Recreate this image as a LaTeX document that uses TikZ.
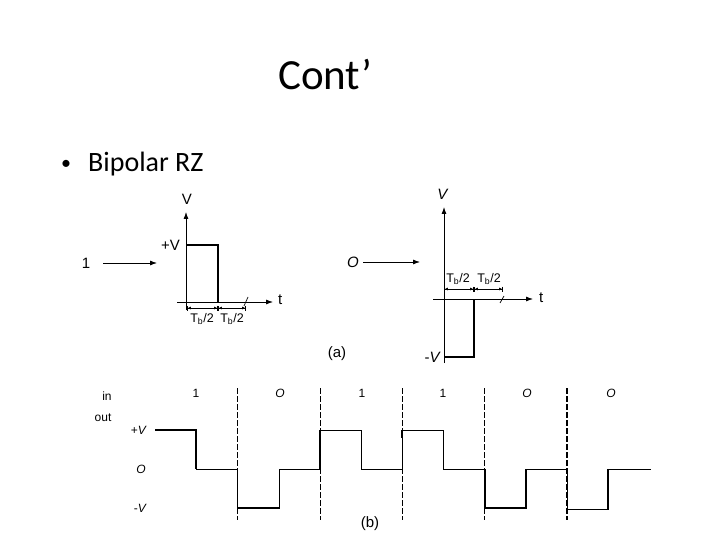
\documentclass[tikz,border=0pt]{standalone}
\usepackage{fontspec}
\setmainfont{Carlito}
\newfontfamily\figfont{Liberation Sans}
\usetikzlibrary{arrows.meta, positioning}

\begin{document}
\begin{tikzpicture}[x=1pt, y=-1pt,
    lbl/.style = {font=\figfont\fontsize{15}{15}\selectfont, inner sep=1pt},
    dimlbl/.style = {font=\figfont\fontsize{12.5}{12.5}\selectfont, inner sep=0pt},
    wlbl/.style = {font=\figfont\fontsize{12}{12}\selectfont, inner sep=1pt},
    axis/.style = {line width=0.8pt, -{Latex[length=7pt,width=5pt]}},
    pulse/.style = {line width=1.2pt},
    dim/.style = {line width=0.9pt,
        {Bar[width=5pt]Latex[length=3pt,width=3pt]}-{Latex[length=3pt,width=3pt]Bar[width=5pt]}},
    bitline/.style = {dash pattern=on 6pt off 2pt, line width=0.7pt},
    wave/.style = {line width=0.9pt},
    heavy/.style = {line width=2pt}]
    \useasboundingbox (0,0) rectangle (720,540);

    % slide text
    \node (title) [anchor=base west, inner sep=0pt,
        font=\fontsize{43}{43}\selectfont] at (278,90) {Cont’};
    \node (bullet) [anchor=base, inner sep=0pt,
        font=\fontsize{20}{20}\selectfont] at (66,170) {•};
    \node (item) [anchor=base west, inner sep=0pt,
        font=\fontsize{28}{28}\selectfont] at (88,172) {Bipolar RZ};

    % (a) left: a one
    \coordinate (oA) at (186,302);
    \coordinate (vA) at (186,212);
    \coordinate (vAbot) at (186,310);
    \coordinate (tAleft) at (177,302);
    \coordinate (tA) at (273,302);
    \coordinate (pAtop) at (186,245);
    \coordinate (pAcorner) at (218,245);
    \coordinate (pAend) at (218,302);
    \coordinate (dA1) at (187,308);
    \coordinate (dA2) at (218,308);
    \coordinate (dA3) at (246,308);
    \coordinate (oneend) at (157,263);

    \node (vlblA) [lbl] at (187,199) {V};
    \node (plusv) [lbl, anchor=east] at (181,245) {+V};
    \node (tlblA) [lbl, anchor=west] at (277,300) {t};
    \node (one) [lbl] at (86,263) {1};
    \node (halfA1) [dimlbl] at (202,319) {T\textsubscript{b}/2};
    \node (halfA2) [dimlbl] at (232,319) {T\textsubscript{b}/2};

    \draw [axis] (vAbot) -- (vA);
    \draw [axis] (tAleft) -- (tA);
    \draw [pulse] (pAtop) -- (pAcorner) -- (pAend);
    \draw [axis, shorten <=12pt] (one) -- (oneend);
    \draw [dim] (dA1) -- (dA2);
    \draw [dim] (dA2) -- (dA3);
    \draw [line width=0.7pt] (244,306) -- (248,297);

    % (a) right: a zero
    \coordinate (vB) at (444,207);
    \coordinate (vBbot) at (444,363);
    \coordinate (tBleft) at (433,299);
    \coordinate (tB) at (533,299);
    \coordinate (pBbot) at (444,357);
    \coordinate (pBcorner) at (474,357);
    \coordinate (pBend) at (474,299);
    \coordinate (dB1) at (444,289);
    \coordinate (dB2) at (474,289);
    \coordinate (dB3) at (503,289);
    \coordinate (zeroend) at (420,262);

    \node (vlblB) [lbl] at (443,194) {\textit{V}};
    \node (minusv) [lbl, anchor=east] at (442,357) {-\textit{V}};
    \node (tlblB) [lbl, anchor=west] at (538,298) {t};
    \node (zero) [lbl] at (353,262) {\textit{O}};
    \node (halfB1) [dimlbl] at (458,279) {T\textsubscript{b}/2};
    \node (halfB2) [dimlbl] at (489,279) {T\textsubscript{b}/2};
    \node (capa) [lbl] at (337,354) {(a)};

    \draw [axis] (vBbot) -- (vB);
    \draw [axis] (tBleft) -- (tB);
    \draw [pulse] (pBbot) -- (pBcorner) -- (pBend);
    \draw [axis, shorten <=3pt] (zero) -- (zeroend);
    \draw [dim] (dB1) -- (dB2);
    \draw [dim] (dB2) -- (dB3);
    \draw [line width=0.7pt] (500,303) -- (504,296);

    % (b) waveform for 1 0 1 1 0 0
    \node (inlbl) [wlbl] at (107,396) {in};
    \node (outlbl) [wlbl] at (103,418) {out};
    \node (lvlp) [wlbl, anchor=east] at (148,430) {+\textit{V}};
    \node (lvlz) [wlbl] at (141,469) {\textit{O}};
    \node (lvln) [wlbl, anchor=east] at (148,508) {-\textit{V}};
    \node (bit1) [wlbl] at (196,393) {1};
    \node (bit2) [wlbl] at (280,393) {\textit{O}};
    \node (bit3) [wlbl] at (362,393) {1};
    \node (bit4) [wlbl] at (443,393) {1};
    \node (bit5) [wlbl] at (527,393) {\textit{O}};
    \node (bit6) [wlbl] at (611,393) {\textit{O}};
    \node (capb) [lbl] at (370,524) {(b)};

    \draw [bitline] (237.5,388) -- (237.5,520);
    \draw [bitline] (320,388) -- (320,520);
    \draw [bitline] (402,388) -- (402,520);
    \draw [bitline] (484.5,388) -- (484.5,520);
    \draw [bitline, line width=1.4pt] (567,388) -- (567,520);

    \draw [wave] (155,430) -- (196,430) -- (196,469) -- (237.5,469)
        -- (237.5,508) -- (279,508) -- (279,469) -- (320,469)
        -- (320,430) -- (361,430) -- (361,469) -- (402,469)
        -- (402,430) -- (443,430) -- (443,469) -- (484.5,469)
        -- (484.5,508) -- (526,508) -- (526,469) -- (567,469)
        -- (567,509) -- (608,509) -- (608,469) -- (651,469);
    \draw [heavy] (155,430) -- (196,430) -- (196,469);
    \draw [heavy] (237.5,508) -- (279,508);
    \draw [heavy] (320,469) -- (320,430);
    \draw [heavy] (402,430) -- (402,438);
    \draw [heavy] (484.5,469) -- (484.5,508) -- (526,508) -- (526,469);
    \draw [heavy] (608,509) -- (608,469);
\end{tikzpicture}
\end{document}
